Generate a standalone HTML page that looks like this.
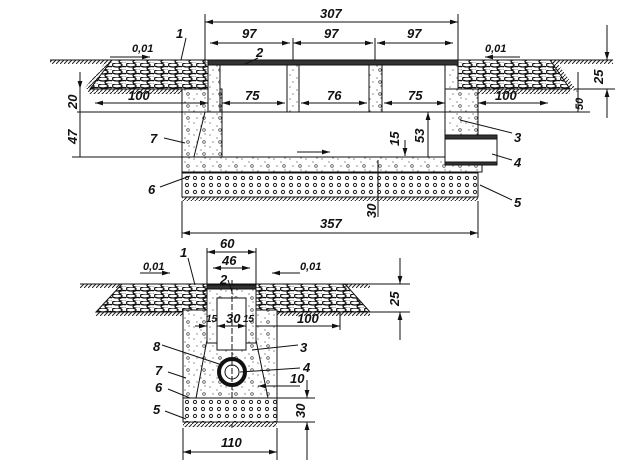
<!DOCTYPE html>
<html><head><meta charset="utf-8"><style>
html,body{margin:0;padding:0;background:#fff}
svg{display:block}
text{font-family:"Liberation Sans",sans-serif;font-style:italic;font-weight:bold;fill:#111}
</style></head><body>
<svg width="623" height="466" viewBox="0 0 623 466" xmlns="http://www.w3.org/2000/svg">
<defs>
<pattern id="cob" width="14" height="7" patternUnits="userSpaceOnUse">
<rect width="14" height="7" fill="#fff"/>
<ellipse cx="5" cy="2" rx="5" ry="2" fill="none" stroke="#111" stroke-width="1.3"/>
<ellipse cx="12" cy="5.5" rx="5" ry="2" fill="none" stroke="#111" stroke-width="1.3"/>
</pattern>
<pattern id="conc" width="16" height="12" patternUnits="userSpaceOnUse">
<rect width="16" height="12" fill="#fff"/>
<circle cx="2" cy="3" r=".6" fill="#444"/><circle cx="9" cy="6" r=".6" fill="#444"/>
<circle cx="13" cy="2" r=".6" fill="#444"/><circle cx="5" cy="10" r=".6" fill="#444"/>
<circle cx="12" cy="10" r="1.3" fill="none" stroke="#333" stroke-width=".7"/>
</pattern>
<pattern id="grav" width="8" height="7" patternUnits="userSpaceOnUse">
<rect width="8" height="7" fill="#fff"/>
<circle cx="3" cy="3" r="1.6" fill="none" stroke="#222" stroke-width="1"/>
</pattern>
<pattern id="hat" width="4" height="4" patternUnits="userSpaceOnUse">
<path d="M0 4L4 0" stroke="#222" stroke-width="1"/>
</pattern>
<marker id="a" viewBox="0 0 10 6" refX="10" refY="3" markerWidth="8" markerHeight="5" orient="auto-start-reverse"><path d="M0 0L10 3L0 6z" fill="#111"/></marker>
</defs>
<g stroke="#111" stroke-width="1">
<!-- TOP SECTION -->
<rect x="50" y="60" width="62" height="4" fill="url(#hat)" stroke="none"/>
<line x1="50" y1="60" x2="112" y2="60"/>
<polygon points="104,64 112,60 90,89 84,89" fill="url(#hat)" stroke="none"/>
<rect x="550" y="60" width="63" height="4" fill="url(#hat)" stroke="none"/>
<line x1="550" y1="60" x2="613" y2="60"/>
<polygon points="550,60 558,64 578,92 570,89" fill="url(#hat)" stroke="none"/>
<polygon points="112,60 208,60 208,89 90,89" fill="url(#cob)"/>
<polygon points="458,60 550,60 570,89 458,89" fill="url(#cob)"/>
<rect x="88" y="89" width="95" height="5" fill="url(#hat)" stroke="none"/>
<rect x="478" y="89" width="92" height="5" fill="url(#hat)" stroke="none"/>
<rect x="182" y="89" width="40" height="70" fill="url(#conc)"/>
<line x1="205" y1="112" x2="190" y2="173"/>
<rect x="208" y="60" width="250" height="5" fill="#333"/>
<rect x="208" y="65" width="12" height="47" fill="url(#conc)"/>
<rect x="287" y="65" width="12" height="47" fill="url(#conc)"/>
<rect x="369" y="65" width="13" height="47" fill="url(#conc)"/>
<rect x="445" y="65" width="13" height="47" fill="url(#conc)"/>
<rect x="445" y="89" width="33" height="49" fill="url(#conc)"/>
<rect x="182" y="157" width="300" height="15" fill="url(#conc)"/>
<rect x="445" y="135" width="52" height="30" fill="#fff"/>
<rect x="445" y="135" width="52" height="4" fill="#333"/>
<rect x="445" y="162" width="52" height="3" fill="#333"/>
<rect x="182" y="173" width="296" height="24" fill="url(#grav)"/>
<rect x="182" y="197" width="296" height="4" fill="url(#hat)" stroke="none"/>
<line x1="77" y1="112" x2="590" y2="112"/>
<line x1="72" y1="157" x2="182" y2="157"/>
<line x1="205" y1="14" x2="205" y2="62"/><line x1="458" y1="14" x2="458" y2="62"/>
<line x1="205" y1="22" x2="458" y2="22" marker-start="url(#a)" marker-end="url(#a)"/>
<line x1="210" y1="43" x2="290" y2="43" marker-start="url(#a)" marker-end="url(#a)"/>
<line x1="293" y1="43" x2="373" y2="43" marker-start="url(#a)" marker-end="url(#a)"/>
<line x1="377" y1="43" x2="453" y2="43" marker-start="url(#a)" marker-end="url(#a)"/>
<line x1="293" y1="38" x2="293" y2="60"/><line x1="375" y1="38" x2="375" y2="60"/>
<line x1="95" y1="103" x2="208" y2="103" marker-start="url(#a)" marker-end="url(#a)"/>
<line x1="222" y1="103" x2="285" y2="103" marker-start="url(#a)" marker-end="url(#a)"/>
<line x1="301" y1="103" x2="367" y2="103" marker-start="url(#a)" marker-end="url(#a)"/>
<line x1="384" y1="103" x2="445" y2="103" marker-start="url(#a)" marker-end="url(#a)"/>
<line x1="478" y1="103" x2="548" y2="103" marker-start="url(#a)" marker-end="url(#a)"/>
<line x1="80" y1="72" x2="80" y2="89" marker-end="url(#a)"/>
<line x1="80" y1="89" x2="80" y2="157"/>
<line x1="607" y1="25" x2="607" y2="60" marker-end="url(#a)"/>
<line x1="607" y1="118" x2="607" y2="89" marker-end="url(#a)"/>
<line x1="575" y1="89" x2="615" y2="89"/>
<line x1="578" y1="72" x2="578" y2="112"/>
<line x1="428" y1="112" x2="428" y2="157" marker-start="url(#a)"/>
<line x1="405" y1="140" x2="405" y2="156" marker-end="url(#a)"/>
<line x1="378" y1="160" x2="378" y2="217"/>
<line x1="182" y1="201" x2="182" y2="238"/><line x1="478" y1="201" x2="478" y2="238"/>
<line x1="182" y1="233" x2="478" y2="233" marker-start="url(#a)" marker-end="url(#a)"/>
<line x1="297" y1="152" x2="330" y2="152" marker-end="url(#a)"/>
<line x1="110" y1="57" x2="150" y2="57" marker-end="url(#a)"/>
<line x1="520" y1="57" x2="485" y2="57" marker-end="url(#a)"/>
<line x1="186" y1="38" x2="181" y2="60"/>
<line x1="258" y1="58" x2="245" y2="64"/>
<line x1="164" y1="138" x2="185" y2="143"/>
<line x1="160" y1="187" x2="190" y2="176"/>
<line x1="512" y1="133" x2="460" y2="120"/>
<line x1="512" y1="160" x2="492" y2="154"/>
<line x1="512" y1="200" x2="480" y2="185"/>
</g>
<g font-size="13">
<text x="320" y="18">307</text>
<text x="242" y="38">97</text><text x="324" y="38">97</text><text x="407" y="38">97</text>
<text x="132" y="52" font-size="11">0,01</text><text x="485" y="52" font-size="11">0,01</text>
<text x="176" y="38">1</text><text x="256" y="57">2</text>
<text x="128" y="100">100</text><text x="245" y="100">75</text><text x="327" y="100">76</text><text x="408" y="100">75</text><text x="495" y="100">100</text>
<text x="150" y="143">7</text><text x="148" y="194">6</text>
<text x="514" y="142">3</text><text x="514" y="167">4</text><text x="514" y="207">5</text>
<text x="320" y="228">357</text>
<text transform="translate(77,109) rotate(-90)">20</text>
<text transform="translate(77,144) rotate(-90)">47</text>
<text transform="translate(424,143) rotate(-90)">53</text>
<text transform="translate(399,146) rotate(-90)">15</text>
<text transform="translate(376,218) rotate(-90)">30</text>
<text transform="translate(603,84) rotate(-90)">25</text>
<text transform="translate(583,110) rotate(-90)" font-size="11">50</text>
</g>
<g stroke="#111" stroke-width="1">
<!-- BOTTOM SECTION -->
<rect x="80" y="284" width="42" height="4" fill="url(#hat)" stroke="none"/>
<line x1="80" y1="284" x2="122" y2="284"/>
<rect x="345" y="284" width="25" height="4" fill="url(#hat)" stroke="none"/>
<line x1="345" y1="284" x2="370" y2="284"/>
<polygon points="122,284 345,284 370,312 96,312" fill="url(#cob)"/>
<rect x="96" y="312" width="87" height="4" fill="url(#hat)" stroke="none"/>
<rect x="277" y="312" width="93" height="4" fill="url(#hat)" stroke="none"/>
<rect x="183" y="310" width="94" height="88" fill="url(#conc)"/>
<rect x="207" y="288" width="49" height="55" fill="url(#conc)"/>
<rect x="217" y="298" width="29" height="52" fill="#fff"/>
<rect x="207" y="285" width="49" height="4" fill="#333"/>
<line x1="207" y1="340" x2="196" y2="398"/><line x1="256" y1="340" x2="268" y2="398"/>
<circle cx="232" cy="372" r="13" fill="#fff" stroke-width="4"/>
<circle cx="232" cy="372" r="7" fill="#fff"/>
<line x1="232" y1="280" x2="232" y2="428" stroke-dasharray="6 2"/>
<rect x="183" y="398" width="94" height="24" fill="url(#grav)"/>
<rect x="183" y="422" width="94" height="5" fill="url(#hat)" stroke="none"/>
<line x1="183" y1="398" x2="315" y2="398"/><line x1="277" y1="422" x2="315" y2="422"/>
<line x1="207" y1="248" x2="207" y2="285"/><line x1="256" y1="248" x2="256" y2="285"/>
<line x1="207" y1="252" x2="256" y2="252" marker-start="url(#a)" marker-end="url(#a)"/>
<line x1="213" y1="268" x2="250" y2="268" marker-start="url(#a)" marker-end="url(#a)"/>
<line x1="195" y1="326" x2="207" y2="326" marker-end="url(#a)"/>
<line x1="217" y1="326" x2="246" y2="326" marker-start="url(#a)" marker-end="url(#a)"/>
<line x1="256" y1="326" x2="340" y2="326" marker-end="url(#a)"/>
<line x1="340" y1="312" x2="340" y2="330"/>
<line x1="400" y1="258" x2="400" y2="284" marker-end="url(#a)"/>
<line x1="400" y1="340" x2="400" y2="312" marker-end="url(#a)"/>
<line x1="370" y1="284" x2="410" y2="284"/><line x1="370" y1="312" x2="410" y2="312"/>
<line x1="307" y1="380" x2="307" y2="398" marker-end="url(#a)"/>
<line x1="307" y1="460" x2="307" y2="422" marker-end="url(#a)"/>
<line x1="183" y1="428" x2="183" y2="460"/><line x1="277" y1="428" x2="277" y2="460"/>
<line x1="183" y1="452" x2="277" y2="452" marker-start="url(#a)" marker-end="url(#a)"/>
<line x1="140" y1="273" x2="170" y2="273" marker-end="url(#a)"/>
<line x1="300" y1="273" x2="272" y2="273" marker-end="url(#a)"/>
<line x1="300" y1="386" x2="258" y2="386" marker-end="url(#a)"/>
<line x1="188" y1="258" x2="195" y2="285"/>
<line x1="228" y1="280" x2="232" y2="292"/>
<line x1="162" y1="345" x2="222" y2="365"/>
<line x1="298" y1="345" x2="252" y2="350"/>
<line x1="300" y1="368" x2="240" y2="372"/>
<line x1="168" y1="372" x2="186" y2="378"/>
<line x1="168" y1="389" x2="190" y2="398"/>
<line x1="165" y1="411" x2="186" y2="419"/>
</g>
<g font-size="13">
<text x="220" y="248">60</text><text x="222" y="265">46</text>
<text x="180" y="257">1</text><text x="220" y="284">2</text>
<text x="143" y="270" font-size="11">0,01</text><text x="300" y="270" font-size="11">0,01</text>
<text x="206" y="322" font-size="10">15</text><text x="226" y="323">30</text><text x="243" y="322" font-size="10">15</text>
<text x="297" y="323">100</text>
<text x="153" y="351">8</text><text x="300" y="352">3</text>
<text x="155" y="375">7</text><text x="303" y="372">4</text><text x="290" y="383">10</text>
<text x="155" y="392">6</text><text x="153" y="414">5</text>
<text x="221" y="447">110</text>
<text transform="translate(399,306) rotate(-90)">25</text>
<text transform="translate(305,418) rotate(-90)">30</text>
</g>
</svg>
</body></html>
